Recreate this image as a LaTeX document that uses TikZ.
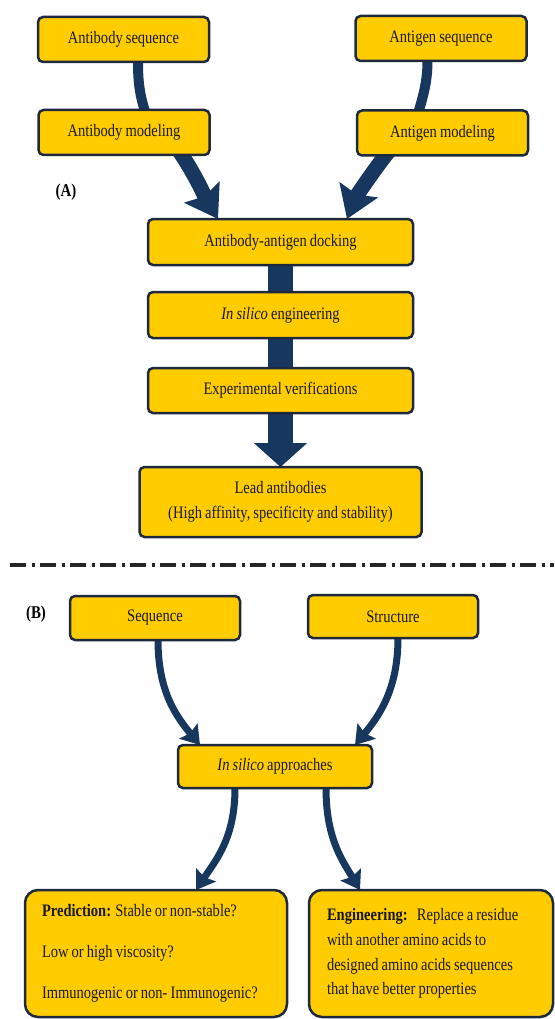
\documentclass[tikz,border=0pt]{standalone}
\usepackage{fontspec}
\setmainfont{Liberation Serif}[FakeStretch=0.83, WordSpace=0.85]
\usetikzlibrary{positioning, arrows.meta, backgrounds}
\definecolor{boxfill}{RGB}{255,204,0}
\definecolor{boxline}{RGB}{31,41,61}
\definecolor{flowblue}{RGB}{23,55,94}
\tikzset{
    block/.style={
        draw=boxline, fill=boxfill, line width=2.5pt,
        rounded corners=5pt, outer sep=0pt, inner sep=0pt,
        minimum width=171pt, minimum height=45pt,
        align=center, text=black!90,
        font=\fontsize{17.5}{24.7}\selectfont
    },
    bigblock/.style={
        block, rounded corners=13pt,
        text width=#1, align=flush left
    },
    panel/.style={font=\fontsize{18}{21}\selectfont\bfseries},
    flow/.style={draw=flowblue, line width=#1},
    flow/.default=7pt,
    head/.style={-{Stealth[length=#1, width=1.3*#1, inset=0.15*#1]}},
    head/.default=18pt,
    sepline/.style={
        draw=black!85, line width=4pt,
        dash pattern=on 16pt off 5.5pt on 3pt off 5.5pt
    }
}

\begin{document}
\begin{tikzpicture}[x=1pt, y=-1pt]

    \useasboundingbox (0,0) rectangle (554,1019);

    % (A) workflow
    \node[block] (absq) at (123.5,39.5) {Antibody sequence};
    \node[block] (agsq) at (441,38.5) {Antigen sequence};
    \node[block] (abmod) at (124,132.5) {Antibody modeling};
    \node[block] (agmod) at (442.5,133) {Antigen modeling};
    \node[panel] (labA) at (66,192) {(A)};

    \node[block, minimum width=265pt, minimum height=46pt] (dock) at (280.5,242) {Antibody-antigen docking};
    \node[block, minimum width=265pt, minimum height=46pt, below=27pt of dock] (insil) {\textit{In silico} engineering};
    \node[block, minimum width=265pt, below=30pt of insil] (exper) {Experimental verifications};
    \node[block, minimum width=282pt, minimum height=70pt, below=54pt of exper] (lead) {Lead antibodies\\(High affinity, specificity and stability)};

    % Separator
    \coordinate (sepL) at (10,565);
    \coordinate (sepR) at (554,565);
    \draw[sepline] (sepL) -- (sepR);

    % (B) approaches
    \node[panel] (labB) at (36,614) {(B)};
    \node[block, minimum width=170pt, minimum height=44pt] (seq) at (155,618) {Sequence};
    \node[block, minimum width=170pt, minimum height=43pt] (struc) at (393,616.5) {Structure};
    \node[block, minimum width=194pt, minimum height=43pt] (insap) at (275,766.5) {\textit{In silico} approaches};

    \node[bigblock=228pt, minimum width=262pt, minimum height=127pt] (pred) at (156,953.5)
        {\textbf{Prediction:} Stable or non-stable?\\[16pt]
         Low or high viscosity?\\[16pt]
         Immunogenic or non- Immunogenic?};
    \node[bigblock=208pt, minimum width=244pt, minimum height=127pt] (engin) at (431,953.5)
        {\textbf{Engineering:}\ \ \ Replace a residue\\
         with another amino acids to\\
         designed amino acids sequences\\
         that have better properties};

    % Lines
    \begin{scope}[on background layer]
        \draw[flow=10pt] ([shift={(14.5,0)}]absq.south) .. controls +(0,22) and +(-8,-22) .. ([shift={(24,10)}]abmod.north);
        \draw[flow=15pt, head=31pt] ([shift={(51,-10)}]abmod.south) .. controls +(20,28) and +(-12,-20) .. ([shift={(-62.5,0)}]dock.north);
        \draw[flow=10pt] ([shift={(-13.5,0)}]agsq.south) .. controls +(0,22) and +(6,-20) .. ([shift={(-26,8)}]agmod.north);
        \draw[flow=15pt, head=31pt] ([shift={(-49,-10)}]agmod.south) .. controls +(-20,24) and +(8,-20) .. ([shift={(66.5,0)}]dock.north);

        \draw[flow=25pt] (dock) -- (insil);
        \draw[flow=25pt] (insil) -- (exper);
        \draw[flow=25pt, -{Triangle[length=24pt, width=52pt]}] (exper) -- (lead);

        \draw[flow, head] ([shift={(3,0)}]seq.south) .. controls +(0,50) and +(-25,-30) .. ([shift={(-75,0)}]insap.north);
        \draw[flow, head] ([shift={(5,0)}]struc.south) .. controls +(0,50) and +(25,-30) .. ([shift={(80,0)}]insap.north);
        \draw[flow, head] ([shift={(-40,0)}]insap.south) .. controls +(0,50) and +(20,-30) .. ([shift={(40,0)}]pred.north);
        \draw[flow, head] ([shift={(51,0)}]insap.south) .. controls +(0,50) and +(-18,-30) .. ([shift={(-71,0)}]engin.north);
    \end{scope}

\end{tikzpicture}
\end{document}
